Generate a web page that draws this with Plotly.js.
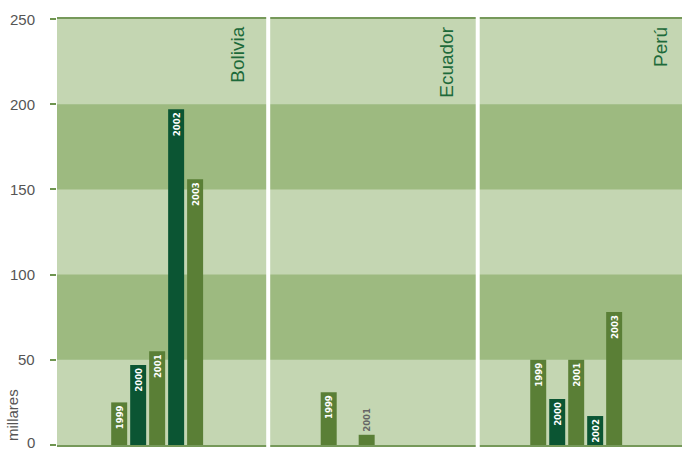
<!DOCTYPE html>
<html>
<head>
<meta charset="utf-8">
<script src="https://cdn.plot.ly/plotly-3.0.1.min.js"></script>
<style>html,body{margin:0;padding:0;background:#fff;}#chart{width:682px;height:452px;}</style>
</head>
<body>
<div id="chart"></div>
<script>
const countries = ['Bolivia', 'Ecuador', 'Perú'];
const years = ['1999', '2000', '2001', '2002', '2003'];
const v1999 = [25, 31, 50];
const v2000 = [47, null, 27];
const v2001 = [55, 6, 50];
const v2002 = [197, null, 17];
const v2003 = [156, null, 78];
const yTicks = [0, 50, 100, 150, 200, 250];
const bands = [[50, 100], [150, 200]];
const yAxisLabel = 'millares';

const seriesValues = [v1999, v2000, v2001, v2002, v2003];
const yearColors = ['#5a7f36', '#0b5533', '#5a7f36', '#0b5533', '#5a7f36'];
const barFont = '"DejaVu Sans Condensed", "Liberation Sans Narrow", Arial, sans-serif';
const labelFont = 'Arial, "Liberation Sans", sans-serif';

const traces = years.map((yr, i) => ({
  type: 'bar',
  name: yr,
  x: countries,
  y: seriesValues[i],
  marker: {color: yearColors[i]},
  text: seriesValues[i].map(v => v == null ? '' : yr),
  textposition: 'auto',
  insidetextanchor: 'end',
  textangle: -90,
  constraintext: 'none',
  cliponaxis: false,
  insidetextfont: {family: barFont, size: 9.5, color: '#ffffff', weight: 'bold'},
  outsidetextfont: {family: barFont, size: 9.5, color: '#666666', weight: 'bold'},
  hoverinfo: 'skip'
}));

const shapes = bands.map(b => ({
  type: 'rect', xref: 'paper', yref: 'y', x0: 0, x1: 1, y0: b[0], y1: b[1],
  fillcolor: '#9dba80', line: {width: 0}, layer: 'below'
}));
[0.53, 1.53].forEach(xv => shapes.push({
  type: 'line', xref: 'x', yref: 'paper', x0: xv, x1: xv, y0: -0.005, y1: 1.005,
  line: {color: '#ffffff', width: 4}, layer: 'above'
}));

const annotations = countries.map((c, i) => ({
  text: c, xref: 'x', yref: 'paper', x: i + 0.38 + (i === 2 ? 0.02 : 0), y: 1, yshift: -6,
  xanchor: 'center', yanchor: 'top', textangle: -90, showarrow: false,
  font: {family: labelFont, size: 19, color: '#1d6a3a'}
}));
yTicks.forEach(t => annotations.push({
  text: String(t), xref: 'paper', yref: 'y', x: 0, xshift: -21, y: t,
  xanchor: 'right', yanchor: t === 0 ? 'bottom' : 'middle', yshift: t === 0 ? -7 : 0,
  borderpad: 0, showarrow: false,
  font: {family: labelFont, size: 15, color: '#555555'}
}));
annotations.push({
  text: yAxisLabel, xref: 'paper', yref: 'paper', x: 0, xshift: -45, y: 0, yshift: 2,
  xanchor: 'center', yanchor: 'bottom', textangle: -90, showarrow: false,
  font: {family: labelFont, size: 15, color: '#555555'}
});

const layout = {
  width: 682, height: 452,
  margin: {l: 57, r: 0, t: 19, b: 7, pad: 0},
  paper_bgcolor: '#ffffff',
  plot_bgcolor: '#c4d6b2',
  barmode: 'group',
  bargap: 0.547,
  bargroupgap: 0.158,
  showlegend: false,
  xaxis: {
    type: 'category', range: [-0.478, 2.505], showticklabels: false, ticks: '',
    showgrid: false, zeroline: false, showline: true, mirror: true,
    linecolor: '#76995a', linewidth: 2, fixedrange: true
  },
  yaxis: {
    range: [0, 250], tickvals: yTicks, showticklabels: false,
    ticks: 'outside', ticklen: 6, tickwidth: 2, tickcolor: '#6f9550',
    showgrid: false, zeroline: false, showline: false,
    fixedrange: true
  },
  shapes: shapes,
  annotations: annotations
};

Plotly.newPlot('chart', traces, layout, {staticPlot: true, displayModeBar: false});
</script>
</body>
</html>
